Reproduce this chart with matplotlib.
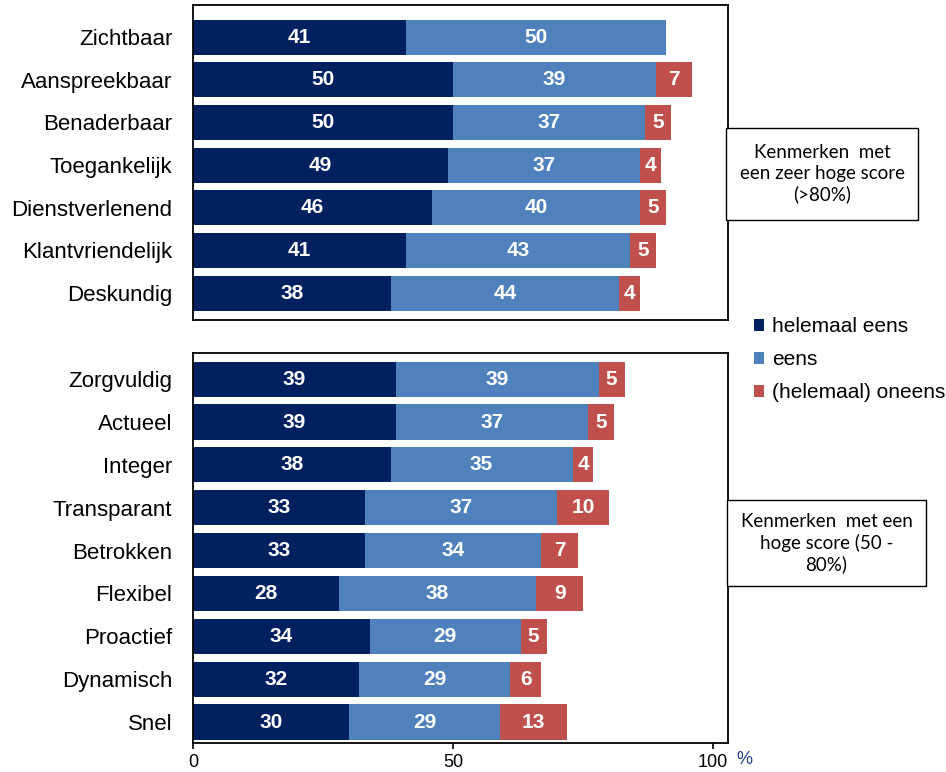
import numpy as np
import matplotlib.pyplot as plt
from matplotlib.patches import Patch, Rectangle

plt.rcParams['font.family'] = ['Liberation Sans', 'DejaVu Sans']

# Kenmerken met een zeer hoge score (>80%)
top_labels = ['Zichtbaar', 'Aanspreekbaar', 'Benaderbaar', 'Toegankelijk',
              'Dienstverlenend', 'Klantvriendelijk', 'Deskundig']
top_eens_full = [41, 50, 50, 49, 46, 41, 38]
top_eens = [50, 39, 37, 37, 40, 43, 44]
top_oneens = [0, 7, 5, 4, 5, 5, 4]

# Kenmerken met een hoge score (50 - 80%)
bot_labels = ['Zorgvuldig', 'Actueel', 'Integer', 'Transparant', 'Betrokken',
              'Flexibel', 'Proactief', 'Dynamisch', 'Snel']
bot_eens_full = [39, 39, 38, 33, 33, 28, 34, 32, 30]
bot_eens = [39, 37, 35, 37, 34, 38, 29, 29, 29]
bot_oneens = [5, 5, 4, 10, 7, 9, 5, 6, 13]

series_names = ['helemaal eens', 'eens', '(helemaal) oneens']
colors = ['#002060', '#4f81bd', '#c0504d']

W, H = 946, 772
fig = plt.figure(figsize=(W / 100, H / 100), dpi=100)


def panel(y_top, y_bot, labels, s1, s2, s3, pad_top, pad_bot):
    ax = fig.add_axes([193 / W, 1 - y_bot / H, (728 - 193) / W, (y_bot - y_top) / H])
    y = np.arange(len(labels))
    left = np.zeros(len(labels))
    for vals, c in zip([s1, s2, s3], colors):
        vals = np.array(vals, dtype=float)
        bars = ax.barh(y, vals, left=left, height=0.82, color=c, edgecolor='none')
        for rect, v in zip(bars, vals):
            if v > 0:
                ax.text(rect.get_x() + rect.get_width() / 2, rect.get_y() + rect.get_height() / 2,
                        f'{v:.0f}', ha='center', va='center', color='white',
                        fontsize=15, fontweight='bold')
        left += vals
    ax.set_xlim(0, (728 - 193) / 5.2)
    ax.set_ylim(len(labels) - 1 + pad_bot, -pad_top)
    ax.set_yticks(y)
    ax.set_yticklabels(labels, fontsize=16)
    ax.tick_params(axis='y', length=0, pad=15)
    for sp in ax.spines.values():
        sp.set_linewidth(1.3)
        sp.set_color('black')
    return ax


ax1 = panel(5, 320, top_labels, top_eens_full, top_eens, top_oneens, 0.75, 0.63)
ax1.set_xticks([])

ax2 = panel(353, 743, bot_labels, bot_eens_full, bot_eens, bot_oneens, 0.61, 0.49)
ax2.set_xticks([0, 50, 100])
ax2.set_xticklabels(['0', '50', '100'], fontsize=13)
ax2.tick_params(axis='x', direction='out', length=4, width=1.2, pad=4)
ax2.text(736 / W, 1 - 760 / H, '%', transform=fig.transFigure, color='#1f3f8f',
         fontsize=13, ha='left', va='center')


# Toelichting per blok: kader met gecentreerde tekst
def note(x0, y0, x1, y1, txt):
    fig.patches.append(Rectangle((x0 / W, 1 - y1 / H), (x1 - x0) / W, (y1 - y0) / H,
                                 transform=fig.transFigure, facecolor='white',
                                 edgecolor='black', linewidth=1))
    fig.text((x0 + x1) / 2 / W, 1 - (y0 + y1) / 2 / H, txt, ha='center', va='center',
             fontsize=13.5, family='Lato', linespacing=1.25)


note(726, 128, 918, 220, 'Kenmerken  met\neen zeer hoge score\n(>80%)')
note(727, 500, 926, 586, 'Kenmerken  met een\nhoge score (50 -\n80%)')

handles = [Patch(facecolor=c, edgecolor='none') for c in colors]
fig.legend(handles, series_names, loc='upper left', bbox_to_anchor=(754 / W, 1 - 317 / H),
           frameon=False, fontsize=15, handlelength=0.5, handleheight=0.5,
           handletextpad=0.35, labelspacing=0.68, borderaxespad=0, borderpad=0)

fig.savefig('out.png', dpi=100)
